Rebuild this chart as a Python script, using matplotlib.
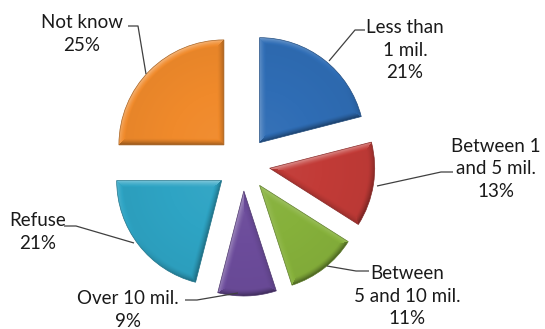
import numpy as np
import matplotlib
matplotlib.use("Agg")
import matplotlib.pyplot as plt

# Survey answers: amount of savings
categories = ["Less than\n1 mil.", "Between 1\nand 5 mil.", "Between\n5 and 10 mil.",
              "Over 10 mil.", "Refuse", "Not know"]
shares = [21, 13, 11, 9, 21, 25]
colors = ["#2F6DB5", "#C23B37", "#86B13B", "#6C4C9B", "#2EA4C4", "#F08A2B"]

# label anchor (text centre) and leader-line path, in pixel coordinates (y down)
label_pos = [(405, 50), (496, 169), (407, 296), (128, 310), (38, 232), (82, 34)]
leader_paths = [
    [(365, 30), (355, 30), (329, 61)],
    [(453, 172), (441, 172), (377, 186)],
    [(369, 271), (356, 271), (327, 266)],
    [(185, 300), (197, 300), (238, 293)],
    [(64, 226), (76, 226), (134, 243)],
    [(128, 26), (138, 26), (146, 74)],
]

W, H = 545, 329
fig = plt.figure(figsize=(W / 100, H / 100), dpi=100)
ax = fig.add_axes([0, 0, 1, 1])
ax.set_xlim(0, W)
ax.set_ylim(0, H)
ax.set_aspect("equal")
ax.axis("off")

center = (243, H - 164)
radius = 105
explode = [27] * len(shares)   # offset in data units (pixels)

wedges, _ = ax.pie(shares, colors=colors, startangle=90, counterclock=False,
                   explode=explode, center=center, radius=radius,
                   wedgeprops=dict(linewidth=0.5))
ax.set_xlim(0, W)
ax.set_ylim(0, H)

# bevel-like shading on each wedge
xx, yy = np.meshgrid(np.arange(W) + 0.5, np.arange(H) + 0.5)
light = np.array([-0.55, 0.83])
bevel_w = 7.0
for w, col in zip(wedges, colors):
    cx, cy = w.center
    R = w.r
    a1, a2 = np.deg2rad(w.theta1), np.deg2rad(w.theta2)
    dx, dy = xx - cx, yy - cy
    r = np.hypot(dx, dy)
    phi = np.arctan2(dy, dx)
    phi = np.where(phi < a1 - 1e-9, phi + 2 * np.pi, phi)
    phi = np.where(phi > a2 + 2 * np.pi, phi - 2 * np.pi, phi)
    d_arc = R - r
    d1 = r * np.sin(phi - a1)
    d2 = r * np.sin(a2 - phi)
    n_arc = np.stack([np.cos(phi), np.sin(phi)])
    n1 = np.array([np.sin(a1), -np.cos(a1)])
    n2 = np.array([-np.sin(a2), np.cos(a2)])
    dots = np.stack([
        n_arc[0] * light[0] + n_arc[1] * light[1],
        np.full_like(r, n1 @ light),
        np.full_like(r, n2 @ light),
    ])
    dist = np.stack([d_arc, d1, d2])
    idx = np.argmin(dist, axis=0)
    dmin = np.take_along_axis(dist, idx[None], 0)[0]
    dsel = np.take_along_axis(dots, idx[None], 0)[0]
    t = np.clip(1 - dmin / bevel_w, 0, 1) ** 1.5
    shade = dsel * t * 0.45
    # gentle body gradient: a little lighter toward the apex
    shade += 0.08 * (1 - np.clip(r / R, 0, 1)) - 0.04
    base = np.array(matplotlib.colors.to_rgb(col))
    img = np.empty((H, W, 4))
    for k in range(3):
        c = base[k]
        img[..., k] = np.where(shade >= 0, c + (1 - c) * shade, c * (1 + shade))
    img[..., 3] = 1.0
    im = ax.imshow(np.clip(img, 0, 1), extent=(0, W, 0, H), origin="lower",
                   interpolation="bilinear", zorder=2)
    im.set_clip_path(w)
    edge = tuple(np.array(matplotlib.colors.to_rgb(col)) * 0.7)
    w.set_edgecolor(edge)
    w.set_zorder(3)
    w.set_facecolor("none")

for name, val, (tx, ty), path in zip(categories, shares, label_pos, leader_paths):
    ax.text(tx, H - ty, f"{name}\n{val}%", ha="center", va="center",
            fontsize=13.5, color="#1a1a1a", linespacing=1.36, zorder=5,
            family=["Lato", "DejaVu Sans"])
    px = [p[0] for p in path]
    py = [H - p[1] for p in path]
    ax.plot(px, py, color="#404040", lw=0.9, zorder=4, solid_capstyle="butt")

fig.savefig("out.png", dpi=100)
